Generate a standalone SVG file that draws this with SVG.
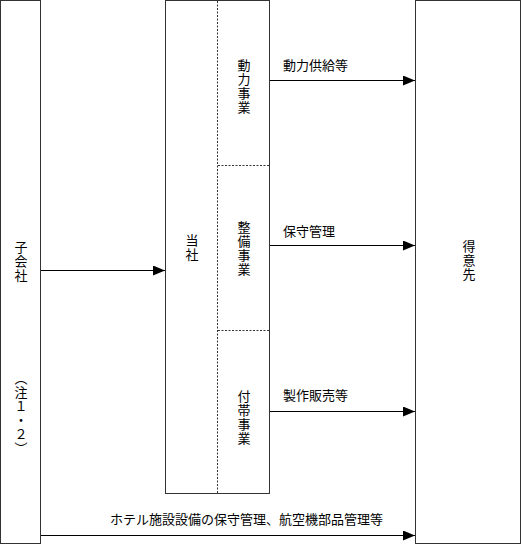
<svg xmlns="http://www.w3.org/2000/svg" width="521" height="544" viewBox="0 0 521 544">
<style>
.box{fill:#fff;stroke:#333;stroke-width:1}
.dash{fill:none;stroke:#333;stroke-width:1;stroke-dasharray:2,1.5}
.ln{fill:none;stroke:#000;stroke-width:1}
text{font-family:"Liberation Serif","Noto Sans CJK JP",serif;font-size:13px;fill:#000}
.v{writing-mode:vertical-rl;text-anchor:middle;letter-spacing:1px}
</style>
<defs>
<marker id="ah" markerWidth="12" markerHeight="10" refX="12" refY="5" orient="auto" markerUnits="userSpaceOnUse">
<path d="M0,0 L12,5 L0,10 Z" fill="#000"/>
</marker>
</defs>
<rect width="521" height="544" fill="#fff"/>
<g id="subsidiary">
<rect class="box" x="0.5" y="0.5" width="40" height="543"/>
<text class="v" x="20" y="262">子会社</text>
<text class="v" x="20" y="414">（注１・２）</text>
</g>
<g id="company">
<rect class="box" x="165.5" y="0.5" width="104" height="493"/>
<line class="dash" x1="217.5" y1="1" x2="217.5" y2="493"/>
<line class="dash" x1="218" y1="165.5" x2="269" y2="165.5"/>
<line class="dash" x1="218" y1="330.5" x2="269" y2="330.5"/>
<text class="v" x="191" y="248">当社</text>
</g>
<g id="power"><text class="v" x="243" y="87">動力事業</text></g>
<g id="maintenance"><text class="v" x="243" y="249">整備事業</text></g>
<g id="ancillary"><text class="v" x="243" y="418">付帯事業</text></g>
<g id="customers">
<rect class="box" x="415.5" y="0.5" width="105" height="543"/>
<text class="v" x="468" y="261">得意先</text>
</g>
<g id="connectors">
<line class="ln" x1="41" y1="270.5" x2="165" y2="270.5" marker-end="url(#ah)"/>
<line class="ln" x1="270" y1="80.5" x2="415" y2="80.5" marker-end="url(#ah)"/>
<line class="ln" x1="270" y1="245.5" x2="415" y2="245.5" marker-end="url(#ah)"/>
<line class="ln" x1="270" y1="411.5" x2="415" y2="411.5" marker-end="url(#ah)"/>
<line class="ln" x1="41" y1="535.5" x2="415" y2="535.5" marker-end="url(#ah)"/>
<text x="283" y="70">動力供給等</text>
<text x="283" y="236">保守管理</text>
<text x="283" y="400">製作販売等</text>
<text x="110" y="524">ホテル施設設備の保守管理、航空機部品管理等</text>
</g>
</svg>
